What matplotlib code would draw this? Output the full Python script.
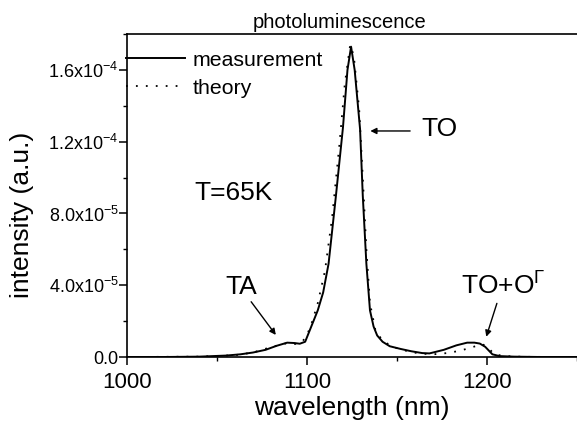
"""Photoluminescence spectrum at T=65K: measurement vs theory."""
import matplotlib
matplotlib.use("Agg")
from matplotlib import pyplot as plt
from matplotlib.ticker import MultipleLocator

plt.rcParams['font.family'] = ['Liberation Sans', 'DejaVu Sans']
plt.rcParams['mathtext.fontset'] = 'custom'
plt.rcParams['mathtext.rm'] = 'Liberation Sans'
plt.rcParams['mathtext.default'] = 'regular'

# Data (intensity in units of 1e-5 a.u.) ======================================

meas_wl = [1000, 1020, 1040, 1055, 1063, 1070, 1077, 1083, 1089, 1093,
           1096, 1099, 1102, 1106, 1109, 1112, 1116, 1120, 1122.5, 1124.5,
           1126.5, 1129.5, 1131, 1133, 1135, 1137, 1139, 1142, 1146, 1152,
           1158, 1164, 1168, 1176, 1183, 1189, 1193, 1196, 1199, 1203,
           1207, 1215, 1230, 1250]
meas_int = [0, 0, 0.02, 0.08, 0.15, 0.25, 0.4, 0.62, 0.8, 0.78,
            0.74, 0.85, 1.6, 2.6, 3.6, 5.2, 8.9, 12.8, 16.0, 17.3,
            16.0, 12.7, 9.0, 5.2, 2.6, 1.7, 1.2, 0.85, 0.6, 0.45,
            0.32, 0.22, 0.2, 0.4, 0.65, 0.8, 0.8, 0.75, 0.57, 0.15,
            0.05, 0.02, 0, 0]

theo_wl = [1000, 1040, 1060, 1070, 1080, 1088, 1093, 1097, 1100, 1103,
           1106, 1110, 1114, 1118, 1121, 1124, 1126, 1129, 1131, 1133,
           1135, 1138, 1142, 1148, 1155, 1162, 1170, 1178, 1185, 1192,
           1197, 1200, 1204, 1210, 1220, 1250]
theo_int = [0, 0.02, 0.1, 0.25, 0.55, 0.75, 0.72, 0.8, 1.2, 2.0,
            3.0, 4.8, 7.8, 11.8, 15.2, 17.4, 16.8, 13.8, 10.0, 6.0,
            3.0, 1.5, 0.9, 0.55, 0.35, 0.2, 0.15, 0.22, 0.35, 0.55,
            0.72, 0.6, 0.15, 0.05, 0.01, 0]

ytick_vals = [0, 4e-5, 8e-5, 1.2e-4, 1.6e-4]
ytick_labels = ['0.0', r'4.0x10$^{-5}$', r'8.0x10$^{-5}$',
                r'1.2x10$^{-4}$', r'1.6x10$^{-4}$']
xtick_vals = [1000, 1100, 1200]

# Plot ========================================================================

fig = plt.figure(figsize=(5.77, 4.21), dpi=100)
ax = fig.add_axes([0.220, 0.152, 0.780, 0.767])

ax.plot(meas_wl, [v * 1e-5 for v in meas_int], '-', color='black',
        lw=1.4, label='measurement')
ax.plot(theo_wl, [v * 1e-5 for v in theo_int], color='black',
        lw=1.3, ls=(0, (1, 4.5)), label='theory')

ax.set_xlim(1000, 1250)
ax.set_ylim(0, 1.80e-4)
ax.set_xticks(xtick_vals)
ax.set_xticklabels([str(v) for v in xtick_vals], fontsize=16)
ax.set_yticks(ytick_vals)
ax.set_yticklabels(ytick_labels, fontsize=13)
ax.xaxis.set_minor_locator(MultipleLocator(50))
ax.yaxis.set_minor_locator(MultipleLocator(2e-5))
ax.tick_params(which='major', direction='out', length=6, width=1.1)
ax.tick_params(which='minor', direction='out', length=3, width=1.0)
ax.tick_params(axis='x', pad=5)
ax.tick_params(axis='y', pad=0)
for side in ['left', 'bottom', 'top']:
    ax.spines[side].set_linewidth(1.2)
ax.spines['right'].set_visible(False)

ax.set_xlabel('wavelength (nm)', fontsize=19)
ax.set_ylabel('intensity (a.u.)', fontsize=19)
ax.xaxis.set_label_coords(0.5, -0.122)
ax.yaxis.set_label_coords(-0.207, 0.44)

fig.text(0.589, 0.933, 'photoluminescence', fontsize=14.5,
         ha='center', va='baseline')

ax.legend(loc='upper left', bbox_to_anchor=(-0.003, 0.948), frameon=False,
          fontsize=15.3, handlelength=2.8, handletextpad=0.35,
          labelspacing=0.42, borderaxespad=0.0, borderpad=0.0)

ax.text(1037.5, 8.75e-5, 'T=65K', fontsize=19, ha='left', va='baseline')

arrow = dict(arrowstyle='-|>', color='black', lw=1.0,
             mutation_scale=9, shrinkA=0, shrinkB=0)
ax.annotate('', xy=(1082.7, 1.23e-5), xytext=(1069, 3.08e-5),
            arrowprops=arrow)
ax.text(1063.5, 3.9e-5, 'TA', fontsize=19, ha='center', va='center')

ax.annotate('', xy=(1135.2, 1.26e-4), xytext=(1157.3, 1.26e-4),
            arrowprops=arrow)
ax.text(1163.5, 1.27e-4, 'TO', fontsize=19, ha='left', va='center')

ax.annotate('', xy=(1199.6, 1.13e-5), xytext=(1205.5, 2.99e-5),
            arrowprops=arrow)
ax.text(1209, 3.46e-5, r'TO+O$^{\Gamma}$', fontsize=19,
        ha='center', va='baseline')

fig.savefig('out.png', dpi=100)
